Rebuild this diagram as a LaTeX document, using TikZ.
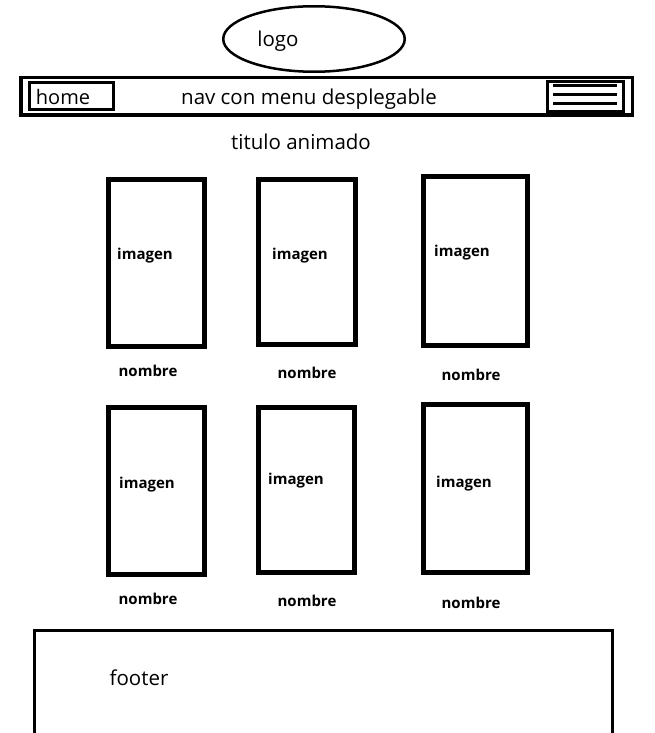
\documentclass[tikz,border=0pt]{standalone}
\usepackage{fontspec}
\setmainfont{Open Sans}
\usepackage{tikz}
\usetikzlibrary{shapes.geometric}

\begin{document}
\begin{tikzpicture}[x=1pt, y=-1pt,
	box/.style={draw, line width=#1, inner sep=0pt},
	box/.default=3.5pt,
	label/.style={font=\fontsize{20.5}{24}\selectfont, inner sep=0pt},
	cardtext/.style={font=\fontsize{15}{18}\selectfont\bfseries, inner sep=0pt}]

\useasboundingbox (0,0) rectangle (654,733);

% logo
\node[ellipse, box=2.5pt, minimum width=181.5pt, minimum height=65.5pt] (logo) at (314,39) {};
\node[label] (logotext) at (278,41) {logo};

% nav
\node[box, minimum width=611.5pt, minimum height=37.5pt] (nav) at (326.5,96.5) {};
\node[box=3pt, minimum width=84pt, minimum height=27pt] (home) at (71.5,96) {};
\node[label, font=\fontsize{20}{24}\selectfont] (hometext) at (63,97) {home};
\node[label] (navtext) at (309,99) {nav con menu desplegable};
\node[box=3pt, minimum width=76pt, minimum height=30pt] (menu) at (585,96.5) {};
\foreach \y in {86,95,104}{
	\draw[line width=3pt] (553,\y)--(617,\y);
}

\node[label] (titulo) at (301,142) {titulo animado};

% cards
\foreach \n/\x/\y/\w/\h/\ix/\iy/\nx/\ny in {
	1/156.5/263/96/167/117/256/148/371,
	2/307/262/97/165/272/256/307/373,
	3/475.5/261/104/169/434/253/471/375,
	4/156.5/491/96/167/119/485/148/599,
	5/306.5/490/96/165/268/481/307/601,
	6/475.5/488.5/104/168/436/484/471/603}
{
	\node[box=5pt, minimum width=\w pt, minimum height=\h pt] (card\n) at (\x,\y) {};
	\node[cardtext, anchor=west] (imagen\n) at (\ix,\iy) {imagen};
	\node[cardtext] (nombre\n) at (\nx,\ny) {nombre};
}

% footer
\draw[line width=3.5pt] (34.5,740)--(34.5,630.5)--(612.5,630.5)--(612.5,740);
\node[label] (footer) at (139,678) {footer};

\end{tikzpicture}
\end{document}
